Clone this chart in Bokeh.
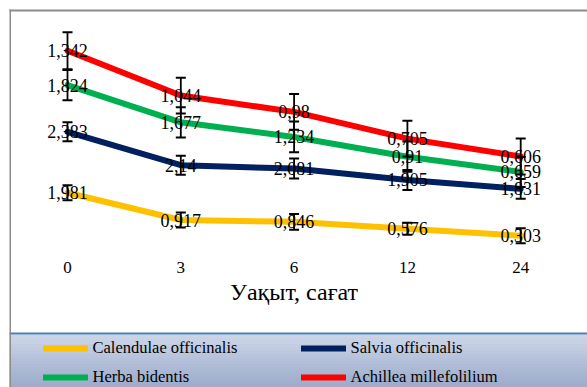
import numpy as np
from bokeh.plotting import figure
from bokeh.models import (Range1d, LinearAxis, FixedTicker, BoxAnnotation,
                          Legend, LegendItem, ColumnDataSource)
from bokeh.core.properties import value
from bokeh.embed import file_html
from bokeh.resources import INLINE

# ---------------- data ----------------
hours = ["0", "3", "6", "12", "24"]
series_names = ["Calendulae officinalis", "Salvia officinalis",
                "Herba bidentis", "Achillea millefolilium"]
calendulae = [1.981, 0.917, 0.846, 0.576, 0.303]
salvia = [2.383, 2.14, 2.081, 1.905, 1.831]
herba = [1.824, 1.677, 1.234, 0.91, 0.659]
achillea = [1.342, 1.044, 0.98, 0.705, 0.606]
err_calendulae = [0.29, 0.29, 0.31, 0.23, 0.29]
err_salvia = [0.37, 0.37, 0.39, 0.39, 0.39]
err_herba = [0.59, 0.59, 0.60, 0.59, 0.59]
err_achillea = [0.72, 0.70, 0.70, 0.70, 0.70]
x_title = "Уақыт, сағат"

series = [calendulae, salvia, herba, achillea]
errors = [err_calendulae, err_salvia, err_herba, err_achillea]
colors = ["#FFC000", "#002060", "#00B050", "#FF0000"]

FONT = "'Liberation Serif', 'Times New Roman', serif"

# ---------------- geometry (style) ----------------
W, H = 587, 387
BASE = 243.0      # canvas px of y = 0
SC = 25.6         # px per unit
X0 = 67.0         # canvas px of first category
DX = 113.3        # px per category

def cx(px):
    return (px - X0) / DX

def cy(py):
    return (BASE - py) / SC

p = figure(width=W, height=H, output_backend="svg", toolbar_location=None,
           x_range=Range1d(cx(0), cx(W)), y_range=Range1d(cy(H), cy(0)),
           x_axis_location=None, y_axis_location=None, min_border=0,
           outline_line_color=None, background_fill_color="white",
           border_fill_color="white")

xs = list(range(len(hours)))
cum = np.cumsum(np.array(series, dtype=float), axis=0)

line_renderers = []
for vals, c in zip(cum, colors):
    r = p.line(xs, vals, line_color=c, line_width=6, line_join="round",
               line_cap="round")
    line_renderers.append(r)

# error bars
for vals, errs in zip(cum, errors):
    e = np.array(errs)
    src = ColumnDataSource(dict(x=xs, lo=vals - e, hi=vals + e))
    p.segment(x0="x", y0="lo", x1="x", y1="hi", source=src,
              line_color="black", line_width=1.8)
    p.scatter(x="x", y="lo", source=src, marker="dash", size=10,
              line_color="black", line_width=2)
    p.scatter(x="x", y="hi", source=src, marker="dash", size=10,
              line_color="black", line_width=2)

# value labels
for vals, raw in zip(cum, series):
    txt = [str(v).replace(".", ",") for v in raw]
    p.text(x=xs, y=list(vals), text=txt, text_font=value(FONT),
           text_font_size="18px", text_align="center", text_baseline="middle",
           text_color="black")

# x axis inside the frame, at y = 0
ax = LinearAxis(fixed_location=0, ticker=FixedTicker(ticks=xs),
                major_label_overrides={i: h for i, h in zip(xs, hours)},
                axis_line_color=None, major_tick_line_color=None,
                minor_tick_line_color=None, major_label_standoff=12,
                major_label_text_font=FONT,
                major_label_text_font_size="17px",
                major_label_text_color="black",
                axis_label=x_title, axis_label_standoff=3,
                axis_label_text_font=FONT,
                axis_label_text_font_size="24px",
                axis_label_text_font_style="normal",
                axis_label_text_color="black")
p.add_layout(ax, "below")

def box(l, r, t, b, color):
    p.add_layout(BoxAnnotation(left=cx(l), right=cx(r), top=cy(t), bottom=cy(b),
                               fill_color=color, fill_alpha=1.0,
                               line_color=None))

# legend background with vertical gradient
top_rgb = np.array([203, 212, 231])
bot_rgb = np.array([157, 172, 203])
y_start, y_end = 334, H
n = 18
edges = np.linspace(y_start, y_end, n + 1)
for i in range(n):
    t = i / (n - 1)
    rgb = (top_rgb * (1 - t) + bot_rgb * t).round().astype(int)
    box(9, W, edges[i], edges[i + 1] + 0.5, "#%02x%02x%02x" % tuple(rgb))
box(9, W, 332, 334, "#4A7EBB")   # legend top line
box(9, W, 9, 11, "#8C8C8C")      # chart top border
box(9, 10.5, 9, H, "#8C8C8C")    # chart left border

legend = Legend(items=[LegendItem(label=n_, renderers=[r])
                       for n_, r in zip(series_names, line_renderers)],
                orientation="horizontal", ncols=2,
                location=(42.5, -3), padding=0, margin=0, spacing=3,
                glyph_width=45, glyph_height=26, label_height=26,
                label_width=205, label_standoff=5,
                label_text_font=FONT,
                label_text_font_size="16.5px", label_text_color="black",
                background_fill_alpha=0.0, border_line_color=None)
p.add_layout(legend)

p.grid.visible = False

open("out.html", "w").write(file_html(p, INLINE))
